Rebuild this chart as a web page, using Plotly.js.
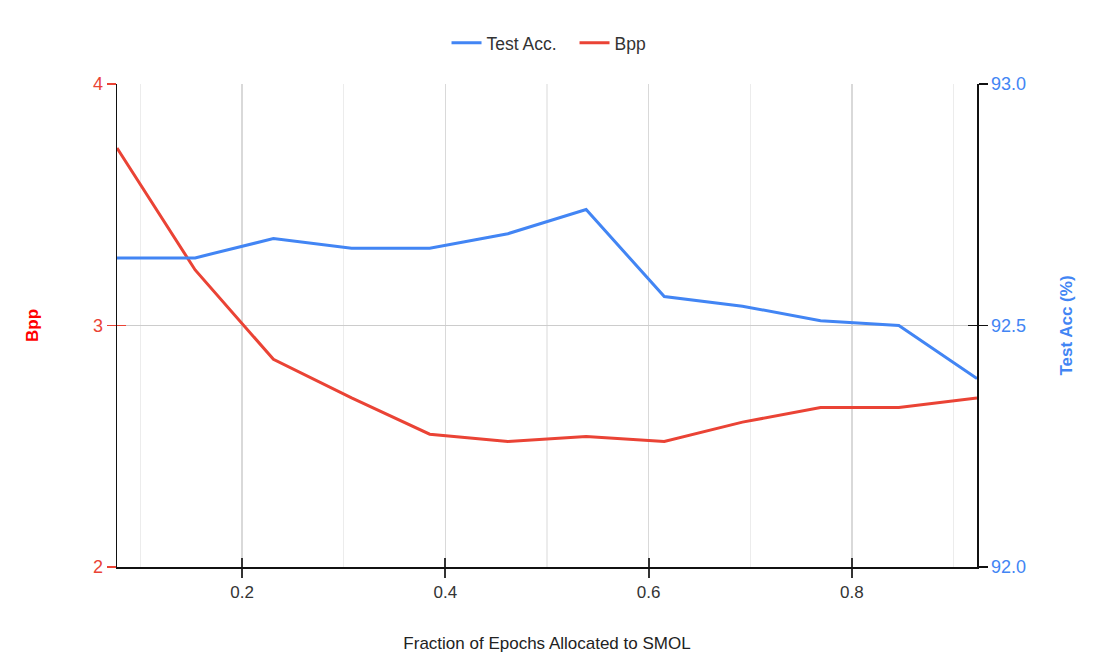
<!DOCTYPE html>
<html>
<head>
<meta charset="utf-8">
<script src="https://cdn.plot.ly/plotly-3.0.1.min.js"></script>
<style>
  html, body { margin: 0; padding: 0; background: #fff; }
  #chart { width: 1093px; height: 668px; }
</style>
</head>
<body>
<div id="chart"></div>
<script>
// Fraction of training epochs given to SMOL
var fraction = [0.0769, 0.1538, 0.2308, 0.3077, 0.3846, 0.4615, 0.5385, 0.6154, 0.6923, 0.7692, 0.8462, 0.9231];
// Test accuracy (%) on the right axis
var testAcc = [92.64, 92.64, 92.68, 92.66, 92.66, 92.69, 92.74, 92.56, 92.54, 92.51, 92.50, 92.39];
// Bits per pixel on the left axis
var bpp = [3.735, 3.23, 2.86, 2.70, 2.55, 2.52, 2.54, 2.52, 2.60, 2.66, 2.66, 2.70];

var xTickVals = [0.2, 0.4, 0.6, 0.8];
var bppTicks = [2, 3, 4];
var accTicks = [92.0, 92.5, 93.0];

var BLUE = '#4285F4';
var RED = '#EA4335';
var FONT = 'Liberation Sans, Arial, sans-serif';
var xRange = [fraction[0], fraction[fraction.length - 1]];

var traces = [
  {
    x: fraction, y: testAcc, name: 'Test Acc.', type: 'scatter', mode: 'lines',
    yaxis: 'y2', line: { color: BLUE, width: 3 }
  },
  {
    x: fraction, y: bpp, name: 'Bpp', type: 'scatter', mode: 'lines',
    yaxis: 'y', line: { color: RED, width: 3 }
  },
  // carriers for the inner tick marks (nothing visible is drawn)
  { x: fraction, y: bpp, xaxis: 'x2', yaxis: 'y3', mode: 'lines', line: { width: 0 },
    showlegend: false, hoverinfo: 'skip', opacity: 0 },
  { x: fraction, y: testAcc, xaxis: 'x2', yaxis: 'y4', mode: 'lines', line: { width: 0 },
    showlegend: false, hoverinfo: 'skip', opacity: 0 }
];

var layout = {
  width: 1093, height: 668,
  margin: { l: 117, r: 116, t: 84, b: 101 },
  paper_bgcolor: '#ffffff', plot_bgcolor: '#ffffff',
  font: { family: FONT, size: 17, color: '#222' },
  showlegend: true,
  legend: {
    orientation: 'h', x: 0.532, xanchor: 'center', y: 1.085, yanchor: 'middle',
    font: { family: FONT, size: 17.5, color: '#333' }, traceorder: 'normal',
    entrywidth: 83
  },
  xaxis: {
    range: xRange, tickvals: xTickVals, ticktext: xTickVals.map(function (v) { return v.toFixed(1); }),
    ticks: 'outside', ticklen: 9, tickwidth: 2, tickcolor: '#333',
    showline: true, linecolor: '#111', linewidth: 1.5,
    showgrid: true, gridcolor: '#d9d9d9', gridwidth: 1.5,
    minor: { tick0: 0.1, dtick: 0.2, showgrid: true, gridcolor: '#ececec', gridwidth: 1.5 },
    zeroline: false,
    tickfont: { family: FONT, size: 17, color: '#333' },
    title: { text: 'Fraction of Epochs Allocated to SMOL', standoff: 36,
             font: { family: FONT, size: 17, color: '#222' } }
  },
  xaxis2: {
    overlaying: 'x', range: xRange, tickvals: xTickVals, ticks: 'inside', ticklen: 9, tickwidth: 2,
    tickcolor: '#333', showticklabels: false, showgrid: false, showline: false, zeroline: false,
    anchor: 'y'
  },
  yaxis: {
    range: [2, 4], tickvals: bppTicks, ticks: 'outside', ticklen: 9, tickwidth: 1.5, tickcolor: RED,
    showline: true, linecolor: '#111', linewidth: 1.5,
    showgrid: true, gridcolor: '#cccccc', gridwidth: 1.5, zeroline: false,
    tickfont: { family: FONT, size: 18, color: RED },
    title: { text: '<b>Bpp</b>', standoff: 50, font: { family: FONT, size: 17, color: '#ff0000' } }
  },
  yaxis2: {
    overlaying: 'y', side: 'right', anchor: 'x', range: [92, 93], tickvals: accTicks,
    ticktext: accTicks.map(function (v) { return v.toFixed(1); }),
    ticks: 'outside', ticklen: 9, tickwidth: 1.5, tickcolor: '#111',
    showline: true, linecolor: '#111', linewidth: 1.5, showgrid: false, zeroline: false,
    tickfont: { family: FONT, size: 18, color: BLUE },
    title: { text: '<b>Test Acc (%)</b>', standoff: 35, font: { family: FONT, size: 17, color: BLUE } }
  },
  yaxis3: {
    overlaying: 'y', side: 'left', anchor: 'x2', range: [2, 4], tickvals: bppTicks,
    ticks: 'inside', ticklen: 9, tickwidth: 1.5, tickcolor: RED,
    showticklabels: false, showgrid: false, showline: false, zeroline: false
  },
  yaxis4: {
    overlaying: 'y', side: 'right', anchor: 'x2', range: [92, 93], tickvals: accTicks.slice(1),
    ticks: 'inside', ticklen: 9, tickwidth: 1.5, tickcolor: '#111',
    showticklabels: false, showgrid: false, showline: false, zeroline: false
  }
};

Plotly.newPlot('chart', traces, layout, { displayModeBar: false, staticPlot: true });
</script>
</body>
</html>
